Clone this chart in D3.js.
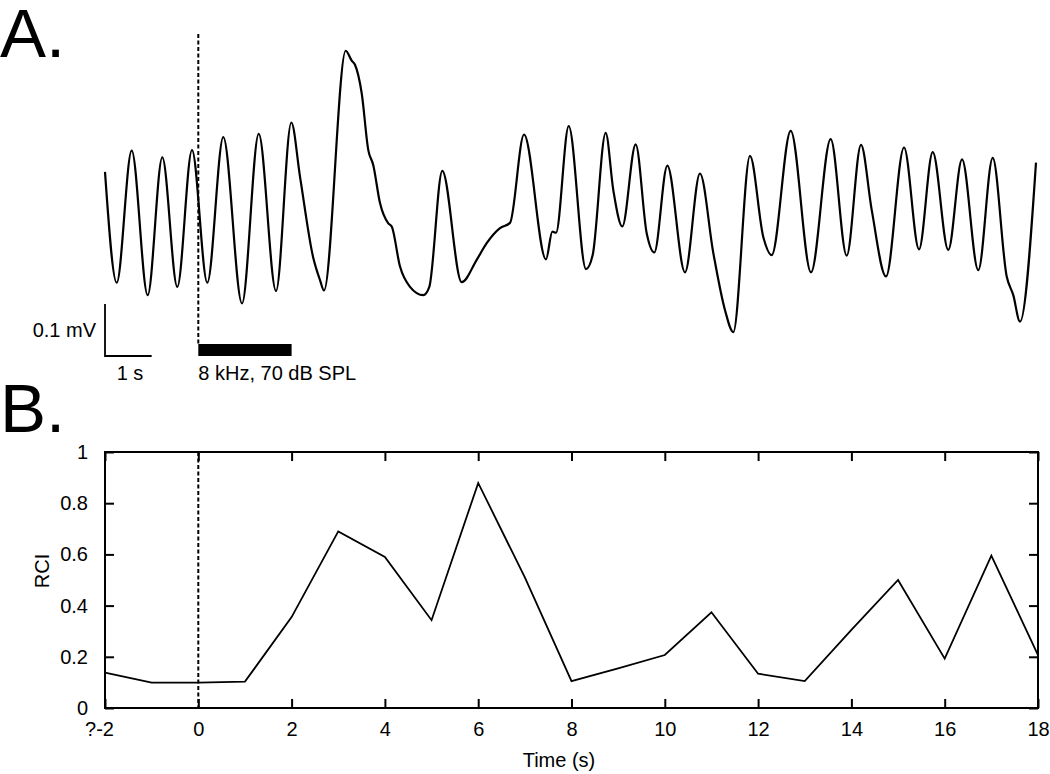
<!DOCTYPE html>
<meta charset="utf-8">
<style>
body { margin: 0; background: #fff; }
text { font-family: "Liberation Sans", Arial, sans-serif; fill: #000; }
.axis path { display: none; }
.axis line { stroke: #000; stroke-width: 2px; }
.axis text { font-size: 20px; font-family: "Liberation Sans", Arial, sans-serif; }
</style>
<body>
<script src="https://d3js.org/d3.v7.min.js"></script>
<script>

// trace A: time (s) and membrane potential (mV, arbitrary offset)
var traceT = [-2.000, -1.749, -1.428, -1.085, -0.772, -0.450, -0.135, 0.193, 0.536, 0.937,
  1.295, 1.666, 1.994, 2.180, 2.459, 2.609, 2.695, 3.160, 3.288, 3.359,
  3.503, 3.644, 3.751, 3.895, 4.073, 4.146, 4.324, 4.538, 4.823, 4.952,
  5.230, 5.646, 5.968, 6.182, 6.467, 6.682, 6.982, 7.453, 7.589, 7.668,
  7.940, 8.311, 8.454, 8.733, 8.896, 9.089, 9.376, 9.612, 9.775, 10.054,
  10.433, 10.754, 11.040, 11.291, 11.468, 11.826, 12.111, 12.292, 12.699, 13.134,
  13.556, 13.899, 14.206, 14.435, 14.742, 15.128, 15.449, 15.743, 16.077, 16.371,
  16.720, 17.029, 17.329, 17.470, 17.614, 17.957];
var traceV = [0.354, 0.141, 0.395, 0.117, 0.382, 0.133, 0.396, 0.141, 0.421, 0.101,
  0.427, 0.125, 0.449, 0.345, 0.191, 0.146, 0.126, 0.587, 0.568, 0.560,
  0.505, 0.396, 0.367, 0.294, 0.255, 0.249, 0.172, 0.133, 0.117, 0.133,
  0.356, 0.142, 0.185, 0.217, 0.246, 0.256, 0.426, 0.186, 0.239, 0.237,
  0.442, 0.167, 0.194, 0.429, 0.319, 0.249, 0.407, 0.236, 0.199, 0.366,
  0.161, 0.351, 0.198, 0.088, 0.046, 0.385, 0.229, 0.194, 0.433, 0.161,
  0.417, 0.193, 0.406, 0.281, 0.153, 0.401, 0.205, 0.392, 0.204, 0.378,
  0.165, 0.381, 0.153, 0.117, 0.066, 0.372];

// panel B: RCI per second
var rciT = [-2, -1, 0, 1, 2, 3, 4, 5, 6, 7, 8, 9, 10, 11, 12, 13, 14, 15, 16, 17, 18];
var rciV = [0.138, 0.099, 0.099, 0.103, 0.355, 0.69, 0.59, 0.343, 0.879, 0.51, 0.105,
  0.155, 0.207, 0.374, 0.134, 0.105, 0.305, 0.50, 0.193, 0.595, 0.207];

var xTicks = [-2, 0, 2, 4, 6, 8, 10, 12, 14, 16, 18];
var xTickLabels = ["?-2", "0", "2", "4", "6", "8", "10", "12", "14", "16", "18"];
var yTicks = [0, 0.2, 0.4, 0.6, 0.8, 1];

var stimOn = 0, stimOff = 2;
var stimLabel = "8 kHz, 70 dB SPL";

var svg = d3.select("body").append("svg")
    .attr("width", 1050)
    .attr("height", 774);

var x = d3.scaleLinear().domain([-2, 18]).range([105, 1038]);
var yA = d3.scaleLinear().domain([0, 0.6]).range([356, 44]);
var yB = d3.scaleLinear().domain([0, 1]).range([708, 452]);

// ---- panel A ----
svg.append("text").attr("x", 0).attr("y", 57)
    .style("font-size", "69px").text("A.");

svg.append("line")
    .attr("x1", x(stimOn)).attr("x2", x(stimOn))
    .attr("y1", 34).attr("y2", 345)
    .attr("stroke", "#000").attr("stroke-width", 2)
    .attr("stroke-dasharray", "4,2.5");

var traceLine = d3.line()
    .x(function(d, i) { return x(traceT[i]); })
    .y(function(d) { return yA(d); })
    .curve(d3.curveMonotoneX);

svg.append("path")
    .attr("d", traceLine(traceV))
    .attr("fill", "none")
    .attr("stroke", "#000")
    .attr("stroke-width", 2.2);

// scale bar
svg.append("path")
    .attr("d", "M" + x(-2) + "," + yA(0.1) + "V" + yA(0) + "H" + x(-1))
    .attr("fill", "none").attr("stroke", "#000").attr("stroke-width", 1.8);
svg.append("text").attr("x", 96).attr("y", 337)
    .attr("text-anchor", "end").style("font-size", "20px").text("0.1 mV");
svg.append("text").attr("x", 130).attr("y", 380)
    .attr("text-anchor", "middle").style("font-size", "20px").text("1 s");

// stimulus bar
svg.append("rect")
    .attr("x", x(stimOn)).attr("y", 344)
    .attr("width", x(stimOff) - x(stimOn)).attr("height", 12)
    .attr("fill", "#000");
svg.append("text").attr("x", x(stimOn)).attr("y", 380)
    .style("font-size", "20px").text(stimLabel);

// ---- panel B ----
svg.append("text").attr("x", 0).attr("y", 432)
    .style("font-size", "69px").text("B.");

svg.append("g").attr("class", "axis")
    .attr("transform", "translate(0,708)")
    .call(d3.axisBottom(x).tickValues(xTicks).tickSizeInner(-9).tickSizeOuter(0).tickPadding(14)
      .tickFormat(function(d, i) { return xTickLabels[i]; }));
svg.append("g").attr("class", "axis")
    .attr("transform", "translate(0,452)")
    .call(d3.axisTop(x).tickValues(xTicks).tickSizeInner(-9).tickSizeOuter(0).tickFormat(""));
svg.append("g").attr("class", "axis")
    .attr("transform", "translate(105,0)")
    .call(d3.axisLeft(yB).tickValues(yTicks).tickSizeInner(-9).tickSizeOuter(0).tickPadding(17)
      .tickFormat(d3.format("")));
svg.append("g").attr("class", "axis")
    .attr("transform", "translate(1038,0)")
    .call(d3.axisRight(yB).tickValues(yTicks).tickSizeInner(-9).tickSizeOuter(0).tickFormat(""));

svg.selectAll(".axis text").style("font-size", "20px");
// the odd first label sits a bit left of its tick
svg.selectAll(".axis text").filter(function(d) { return d === -2; }).attr("dx", -6);

svg.append("rect")
    .attr("x", 105).attr("y", 452)
    .attr("width", 1038 - 105).attr("height", 708 - 452)
    .attr("fill", "none").attr("stroke", "#000").attr("stroke-width", 2);

svg.append("line")
    .attr("x1", x(stimOn)).attr("x2", x(stimOn))
    .attr("y1", 452).attr("y2", 708)
    .attr("stroke", "#000").attr("stroke-width", 2)
    .attr("stroke-dasharray", "4,2.5");

var rciLine = d3.line()
    .x(function(d, i) { return x(rciT[i]); })
    .y(function(d) { return yB(d); });

svg.append("path")
    .attr("d", rciLine(rciV))
    .attr("fill", "none")
    .attr("stroke", "#000")
    .attr("stroke-width", 1.8);

svg.append("text").attr("x", 559).attr("y", 767)
    .attr("text-anchor", "middle").style("font-size", "20px").text("Time (s)");
svg.append("text")
    .attr("transform", "translate(49,571) rotate(-90)")
    .attr("text-anchor", "middle").style("font-size", "20px").text("RCI");

</script>
</body>
